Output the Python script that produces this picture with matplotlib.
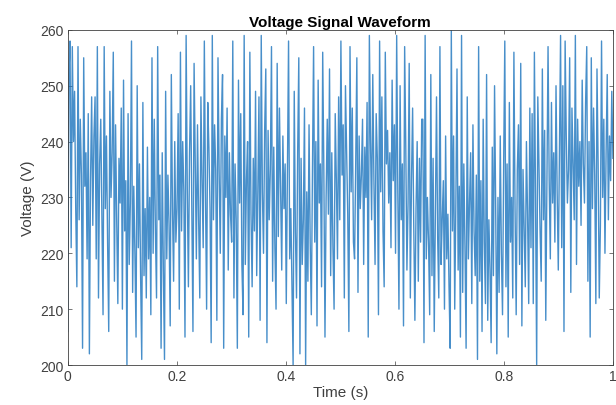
import matplotlib
matplotlib.use("Agg")
import matplotlib.pyplot as plt
import numpy as np

TITLE = "Voltage Signal Waveform"
X_LABEL = "Time (s)"
Y_LABEL = "Voltage (V)"

# voltage samples, 24 per 0.05 s segment
voltage = [
    206, 252, 258, 221, 257, 240, 249, 228, 214, 257, 226, 244, 234, 203, 255, 232, 238, 219, 245, 202, 233, 248, 225, 241,
    248, 219, 257, 212, 236, 244, 227, 209, 257, 228, 241, 222, 206, 249, 230, 238, 256, 215, 243, 226, 211, 237, 229, 246,
    210, 251, 224, 233, 200, 245, 218, 229, 258, 213, 232, 220, 205, 250, 221, 236, 216, 201, 247, 216, 228, 212, 239, 219,
    230, 209, 255, 220, 244, 224, 212, 257, 226, 234, 203, 238, 217, 201, 249, 219, 234, 225, 207, 252, 228, 215, 240, 222,
    228, 245, 210, 256, 224, 240, 231, 205, 259, 232, 214, 238, 250, 227, 206, 254, 236, 219, 243, 226, 212, 248, 233, 221,
    258, 231, 210, 247, 239, 228, 204, 259, 226, 243, 235, 208, 255, 235, 220, 244, 252, 203, 241, 230, 246, 217, 238, 227,
    222, 258, 212, 236, 226, 203, 251, 229, 245, 218, 209, 259, 218, 233, 240, 205, 256, 227, 214, 237, 224, 249, 216, 231,
    248, 208, 259, 231, 220, 242, 253, 204, 242, 226, 235, 257, 215, 239, 221, 210, 254, 223, 246, 232, 217, 241, 228, 236,
    211, 234, 258, 219, 228, 214, 200, 249, 224, 212, 238, 255, 202, 237, 218, 226, 246, 200, 231, 215, 243, 222, 209, 235,
    257, 222, 240, 207, 251, 229, 236, 214, 256, 235, 205, 230, 244, 227, 253, 216, 238, 221, 210, 245, 233, 219, 248, 226,
    258, 234, 243, 212, 250, 238, 227, 206, 257, 231, 246, 222, 219, 236, 255, 213, 241, 228, 234, 244, 218, 239, 230, 247,
    205, 259, 240, 226, 252, 233, 218, 245, 237, 209, 258, 231, 248, 224, 214, 256, 236, 242, 229, 238, 221, 251, 233, 243,
    220, 259, 231, 210, 250, 226, 236, 207, 257, 239, 217, 229, 254, 212, 233, 246, 225, 208, 228, 240, 215, 237, 222, 244,
    244, 204, 259, 219, 230, 222, 209, 252, 216, 237, 206, 228, 248, 223, 212, 257, 218, 226, 233, 210, 241, 219, 227, 214,
    203, 260, 224, 241, 210, 229, 253, 217, 232, 205, 259, 213, 236, 221, 203, 248, 219, 229, 238, 211, 243, 224, 216, 234,
    201, 257, 215, 233, 206, 244, 222, 211, 252, 208, 226, 217, 204, 239, 216, 250, 228, 202, 230, 213, 241, 220, 209, 236,
    258, 214, 236, 205, 247, 222, 230, 212, 256, 228, 209, 235, 243, 218, 254, 207, 235, 224, 214, 240, 227, 211, 246, 221,
    245, 211, 256, 230, 200, 248, 236, 224, 215, 253, 226, 242, 208, 233, 257, 233, 219, 247, 229, 238, 222, 250, 231, 217,
    238, 259, 221, 250, 206, 258, 241, 229, 235, 255, 213, 246, 236, 226, 259, 218, 244, 232, 240, 225, 251, 236, 229, 247,
    257, 215, 240, 205, 255, 228, 246, 234, 211, 253, 236, 212, 225, 258, 230, 244, 220, 238, 252, 226, 241, 233, 249, 237,
]
x_ticks = [0, 0.2, 0.4, 0.6, 0.8, 1]
x_tick_labels = ["0", "0.2", "0.4", "0.6", "0.8", "1"]
y_ticks = [200, 210, 220, 230, 240, 250, 260]

plt.rcParams["font.family"] = ["Liberation Sans", "DejaVu Sans"]

time = np.linspace(0, 1, len(voltage))

fig = plt.figure(figsize=(6.16, 4.06), dpi=100)
ax = fig.add_axes([0.110, 0.0985, 0.885, 0.8255])
ax.plot(time, voltage, color="#1a73bd", linewidth=1.0, alpha=0.8)

ax.set_xlim(0, 1)
ax.set_ylim(200, 260)
ax.set_xticks(x_ticks)
ax.set_xticklabels(x_tick_labels)
ax.set_yticks(y_ticks)
ax.tick_params(direction="in", top=True, right=True, length=3, width=0.5,
               labelsize=10, colors="#404040", pad=3)
for spine in ax.spines.values():
    spine.set_linewidth(0.6)
    spine.set_color("#404040")

ax.set_title(TITLE, fontsize=11, fontweight="bold", pad=3)
ax.set_xlabel(X_LABEL, fontsize=11, color="#404040", labelpad=1)
ax.set_ylabel(Y_LABEL, fontsize=11, color="#404040", labelpad=4)

fig.savefig("out.png", dpi=100)
